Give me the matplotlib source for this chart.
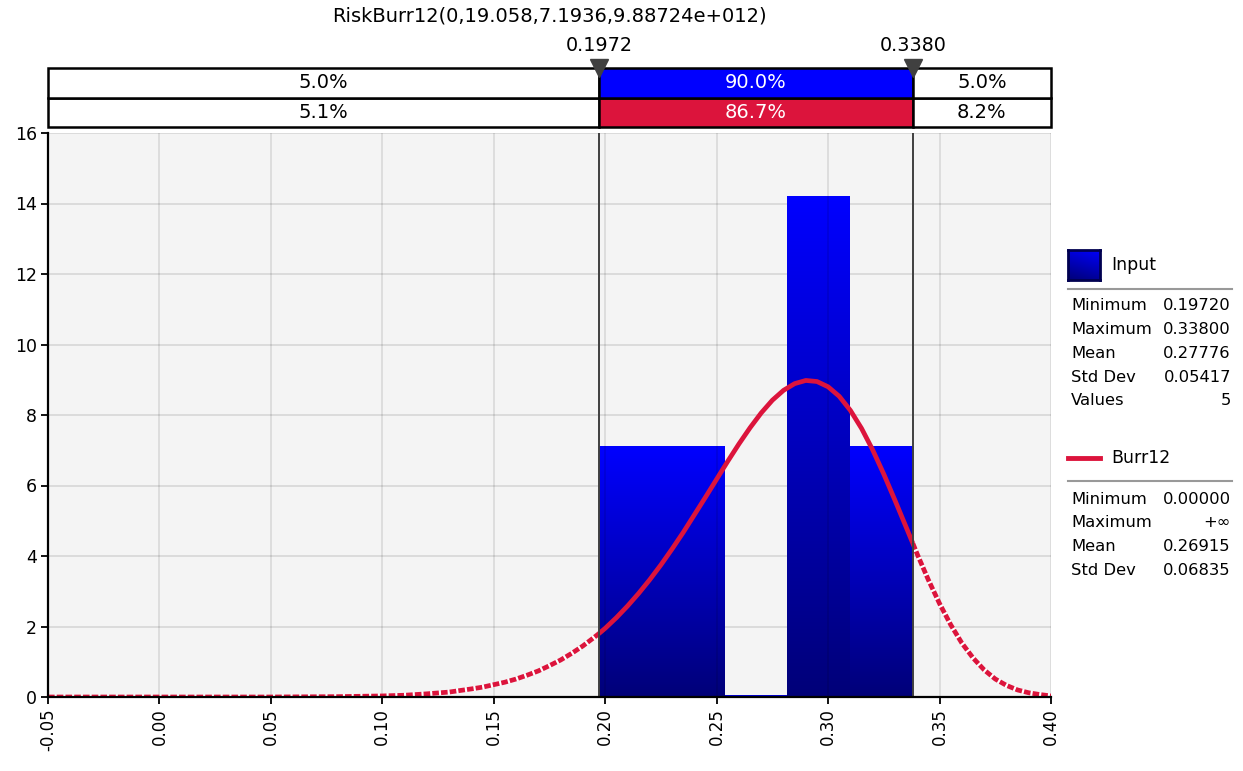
import numpy as np
import matplotlib
matplotlib.use("Agg")
import matplotlib.pyplot as plt
from matplotlib.patches import Rectangle
from matplotlib.lines import Line2D

plt.rcParams['font.family'] = ['DejaVu Sans']

# ---- data ----
title = "RiskBurr12(0,19.058,7.1936,9.88724e+012)"
left_mark = 0.1972
right_mark = 0.3380
n_bins = 5
hist_density = [7.1, 7.1, 0.05, 14.2, 7.1]

band_input = ["5.0%", "90.0%", "5.0%"]
band_fit = ["5.1%", "86.7%", "8.2%"]

curve_x = [-0.05, 0.00, 0.05, 0.08, 0.10, 0.11, 0.12, 0.13, 0.14, 0.145,
           0.15, 0.155, 0.16, 0.165, 0.17, 0.175, 0.18, 0.185, 0.19, 0.195,
           0.1972, 0.20, 0.205, 0.21, 0.215, 0.22, 0.225, 0.23, 0.235, 0.24,
           0.245, 0.25, 0.255, 0.26, 0.265, 0.27, 0.275, 0.28, 0.285, 0.29,
           0.295, 0.30, 0.305, 0.31, 0.315, 0.32, 0.325, 0.33, 0.335, 0.338,
           0.34, 0.345, 0.35, 0.355, 0.36, 0.365, 0.37, 0.375, 0.38, 0.385,
           0.39, 0.395, 0.40]
curve_y = [0.0, 0.0, 0.0, 0.01, 0.03, 0.05, 0.09, 0.14, 0.23, 0.28,
           0.35, 0.42, 0.51, 0.62, 0.74, 0.89, 1.05, 1.24, 1.45, 1.69,
           1.80, 1.95, 2.25, 2.58, 2.94, 3.33, 3.75, 4.20, 4.67, 5.17,
           5.67, 6.18, 6.69, 7.18, 7.64, 8.06, 8.42, 8.70, 8.89, 8.98,
           8.95, 8.80, 8.53, 8.13, 7.62, 7.01, 6.32, 5.58, 4.82, 4.36,
           4.05, 3.32, 2.65, 2.05, 1.53, 1.11, 0.77, 0.51, 0.33, 0.20,
           0.12, 0.07, 0.03]

stat_names_input = ["Minimum", "Maximum", "Mean", "Std Dev", "Values"]
stat_vals_input = ["0.19720", "0.33800", "0.27776", "0.05417", "5"]
stat_names_fit = ["Minimum", "Maximum", "Mean", "Std Dev"]
stat_vals_fit = ["0.00000", "+\u221e", "0.26915", "0.06835"]

xticks = [-0.05, 0.00, 0.05, 0.10, 0.15, 0.20, 0.25, 0.30, 0.35, 0.40]
yticks = [0, 2, 4, 6, 8, 10, 12, 14, 16]

BLUE = "#0000ff"
RED = "#dc143c"
MARK = "#404040"

W, H = 1243, 771


def fx(px):
    return px / W


def fy(py):
    return 1 - py / H


fig = plt.figure(figsize=(W / 100, H / 100), dpi=100)

# main plot area
ax = fig.add_axes([fx(48), fy(697), fx(1051) - fx(48), fy(133) - fy(697)])
ax.set_facecolor("#f4f4f4")

# histogram bars with vertical gradient
edges = np.linspace(left_mark, right_mark, n_bins + 1)
cmap = matplotlib.colors.LinearSegmentedColormap.from_list(
    "bar", [(0, 0, 120 / 255), (0, 0, 1)])
grad = np.linspace(0, 1, 256).reshape(-1, 1)
for i, h in enumerate(hist_density):
    ax.imshow(grad, extent=(edges[i], edges[i + 1], 0, h), origin="lower",
              cmap=cmap, aspect="auto", zorder=1, interpolation="bilinear")

# horizontal grid behind the bars, vertical grid faintly over them
ax.set_axisbelow(True)
ax.yaxis.grid(True, color="#d9d9d9", linewidth=1.3)
for t in xticks:
    ax.axvline(t, color="black", alpha=0.1, lw=1.3, zorder=2)

# fitted curve: solid inside the marks, dashed outside
cx = np.array(curve_x)
cy = np.array(curve_y)
inside = (cx >= left_mark - 1e-9) & (cx <= right_mark + 1e-9)
lo = cx <= left_mark + 1e-9
hi = cx >= right_mark - 1e-9
for m in (lo, hi):
    ax.plot(cx[m], cy[m], color=RED, lw=3.4, linestyle=(0, (1.4, 0.45)),
            gapcolor="white", dash_capstyle="butt", zorder=4)
ax.plot(cx[inside], cy[inside], color=RED, lw=3.4, zorder=4,
        solid_capstyle="butt", solid_joinstyle="round")

for xm in (left_mark, right_mark):
    ax.axvline(xm, color=MARK, lw=1.4, zorder=5)

ax.set_xlim(-0.05, 0.40)
ax.set_ylim(0, 16)
ax.set_xticks(xticks)
ax.set_xticklabels([f"{t:.2f}" for t in xticks], rotation=90, fontsize=12)
ax.set_yticks(yticks)
ax.set_yticklabels([str(t) for t in yticks], fontsize=12.5)
ax.tick_params(length=5, width=1.3, color="black", pad=3)
for s in ("top", "right"):
    ax.spines[s].set_visible(False)
for s in ("left", "bottom"):
    ax.spines[s].set_linewidth(1.6)
    ax.spines[s].set_zorder(6)

# percentile bands above the plot
bx = fig.add_axes([fx(48), fy(127), fx(1051) - fx(48), fy(68) - fy(127)])
bx.set_xlim(-0.05, 0.40)
bx.set_ylim(0, 2)
bx.axis("off")
segs = [(-0.05, left_mark), (left_mark, right_mark), (right_mark, 0.40)]
for row, (labels, fill) in enumerate([(band_fit, RED), (band_input, BLUE)]):
    for j, (a, b) in enumerate(segs):
        fc = fill if j == 1 else "white"
        bx.add_patch(Rectangle((a, row), b - a, 1, facecolor=fc,
                               edgecolor="black", lw=1.8, clip_on=False))
        bx.text((a + b) / 2, row + 0.5, labels[j], ha="center", va="center",
                fontsize=14, color="white" if j == 1 else "black")

for xm in (left_mark, right_mark):
    bx.plot([xm], [2.0], marker="v", markersize=12.5, color=MARK,
            markeredgecolor=MARK, clip_on=False, zorder=6)
    bx.annotate(f"{xm:.4f}", xy=(xm, 2.0), xytext=(0, 16.5),
                textcoords="offset points", ha="center", va="center",
                fontsize=13.8)

fig.text((fx(48) + fx(1051)) / 2, fy(16), title, ha="center", va="center",
         fontsize=14)

# legend / statistics panel
lx = fig.add_axes([fx(1068), fy(280), fx(1100) - fx(1068), fy(250) - fy(280)])
lx.imshow(np.linspace(1, 0, 64).reshape(-1, 1) * np.ones((1, 64))
          + np.linspace(0, 0.3, 64).reshape(1, -1),
          cmap=cmap, aspect="auto", vmin=0, vmax=1.3)
lx.set_xticks([])
lx.set_yticks([])
for s in lx.spines.values():
    s.set_color("#000050")
    s.set_linewidth(2)
fig.text(fx(1111), fy(265), "Input", va="center", fontsize=12.5)
fig.add_artist(Line2D([fx(1068), fx(1232)], [fy(289), fy(289)],
                      color="#999999", lw=1.5))
for k, (n, v) in enumerate(zip(stat_names_input, stat_vals_input)):
    y = fy(306 + k * 23.7)
    fig.text(fx(1071), y, n, va="center", fontsize=11.8)
    fig.text(fx(1231), y, v, va="center", ha="right", fontsize=11.8)

fig.add_artist(Line2D([fx(1068), fx(1100)], [fy(458), fy(458)],
                      color=RED, lw=3.5))
fig.text(fx(1111), fy(458), "Burr12", va="center", fontsize=12.5)
fig.add_artist(Line2D([fx(1068), fx(1232)], [fy(481), fy(481)],
                      color="#999999", lw=1.5))
for k, (n, v) in enumerate(zip(stat_names_fit, stat_vals_fit)):
    y = fy(499 + k * 23.7)
    fig.text(fx(1071), y, n, va="center", fontsize=11.8)
    fig.text(fx(1231), y, v, va="center", ha="right", fontsize=11.8)

fig.savefig("out.png", dpi=100)
